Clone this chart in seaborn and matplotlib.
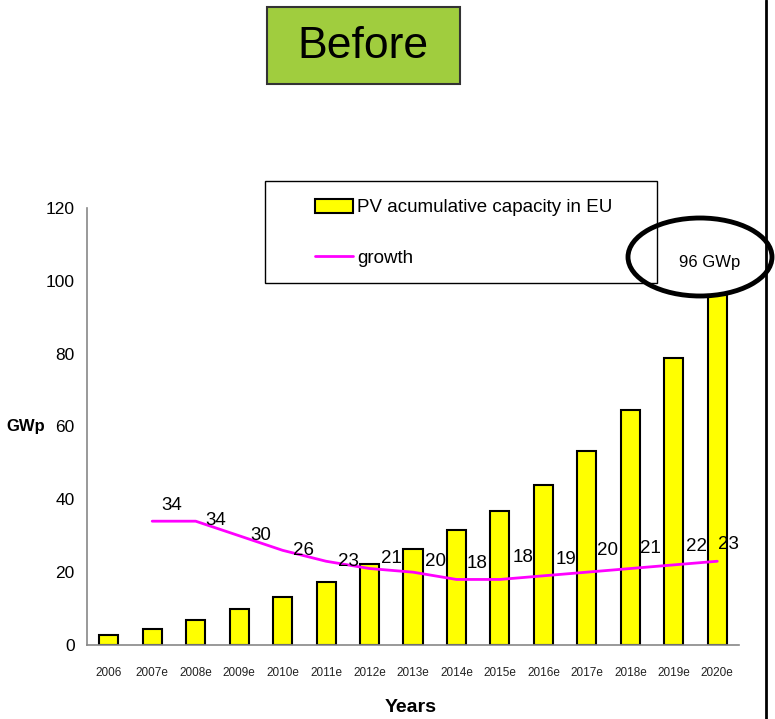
import numpy as np
import pandas as pd
import matplotlib
matplotlib.use("Agg")
import matplotlib.pyplot as plt
import seaborn as sns
from matplotlib.patches import Ellipse, Rectangle, Patch
from matplotlib.lines import Line2D

# data
years = ["2006", "2007e", "2008e", "2009e", "2010e", "2011e", "2012e", "2013e",
         "2014e", "2015e", "2016e", "2017e", "2018e", "2019e", "2020e"]
capacity = [2.7, 4.4, 6.9, 9.9, 13.2, 17.3, 22.2, 26.4, 31.6, 36.8, 43.9, 53.3, 64.5, 78.8, 96.0]
growth_years = years[1:]
growth = [34, 34, 30, 26, 23, 21, 20, 18, 18, 19, 20, 21, 22, 23]
yticks = [0, 20, 40, 60, 80, 100, 120]

sns.set_style("white")
plt.rcParams["font.family"] = ["Liberation Sans", "DejaVu Sans"]
plt.rcParams["text.color"] = "black"
plt.rcParams["xtick.color"] = "black"
plt.rcParams["ytick.color"] = "black"

W, H = 775, 719
fig = plt.figure(figsize=(W / 100, H / 100), dpi=100)


def fx(px):
    return px / W


def fy(py):
    return 1 - py / H


ax = fig.add_axes([fx(87), fy(645), fx(739 - 87), (645 - 208) / H])

df = pd.DataFrame({"year": years, "capacity": capacity})
sns.barplot(data=df, x="year", y="capacity", color="#FFFF00", saturation=1,
            edgecolor="black", linewidth=1.5, width=0.44, ax=ax)

gx = [years.index(y) for y in growth_years]
sns.lineplot(x=gx, y=growth, color="#FF00FF", linewidth=2, ax=ax)

# label offsets in pixels (right, up) as placed in the original
label_dx = [20, 20, 22, 21, 22, 22, 23, 21, 23, 23, 21, 20, 23, 11]
label_dy = [16, 1, 0, 0, 0, 10, 11, 16, 22, 16, 22, 20, 18, 17]
for x, g, dx, dy in zip(gx, growth, label_dx, label_dy):
    ax.annotate(str(g), (x, g), xytext=(dx * 0.72, dy * 0.72), textcoords="offset points",
                ha="center", va="center", fontsize=13.5)

ax.set_ylim(0, 120)
ax.set_xlim(-0.5, len(years) - 0.5)
ax.set_yticks(yticks)
ax.set_yticklabels([str(t) for t in yticks], fontsize=12.5)
ax.set_xticks(np.arange(len(years) + 1) - 0.5)
ax.set_xticklabels([])
ax.set_xticks(np.arange(len(years)), minor=True)
ax.set_xticklabels(years, minor=True, fontsize=8.5, color="#222222")
ax.tick_params(axis="x", which="major", length=5, color="#888888", direction="out")
ax.tick_params(axis="x", which="minor", length=0, pad=16)
ax.tick_params(axis="y", length=5, color="#888888", direction="out", pad=4)
ax.set_xlabel("")
ax.set_ylabel("")
for s in ["top", "right"]:
    ax.spines[s].set_visible(False)
for s in ["left", "bottom"]:
    ax.spines[s].set_color("#888888")
    ax.spines[s].set_linewidth(1.2)

fig.text(fx(26), fy(427), "GWp", fontsize=12, fontweight="bold", ha="center", va="center")
fig.text(fx(411), fy(707), "Years", fontsize=14, fontweight="bold", ha="center", va="center")

# legend box
fig.patches.append(Rectangle((fx(265), fy(283)), fx(657 - 265), (283 - 181) / H,
                             transform=fig.transFigure, facecolor="white",
                             edgecolor="black", linewidth=1, zorder=1))
handles = [Patch(facecolor="#FFFF00", edgecolor="black", linewidth=1.5),
           Line2D([0], [0], color="#FF00FF", linewidth=2)]
leg = fig.legend(handles, ["PV acumulative capacity in EU", "growth"],
                 loc="upper left", bbox_to_anchor=(fx(315), fy(199)),
                 frameon=False, fontsize=13.5, handlelength=2.0, handleheight=0.75,
                 handletextpad=0.25, labelspacing=1.75, borderpad=0, borderaxespad=0)

# highlight of last value
fig.patches.append(Ellipse((fx(700), fy(257)), fx(144), 78 / H, transform=fig.transFigure,
                           fill=False, edgecolor="black", linewidth=3.5, zorder=5))
fig.text(fx(710), fy(263), "96 GWp", fontsize=12, ha="center", va="center")

# title tag
fig.patches.append(Rectangle((fx(267), fy(84)), fx(460 - 267), (84 - 7) / H,
                             transform=fig.transFigure, facecolor="#A0CD3E",
                             edgecolor="#333333", linewidth=1.5))
fig.text(fx(363), fy(47), "Before", fontsize=32, ha="center", va="center")

fig.add_artist(Line2D([fx(766), fx(766)], [0, 1], transform=fig.transFigure,
                      color="black", linewidth=2))

fig.savefig("out.png", dpi=100)
